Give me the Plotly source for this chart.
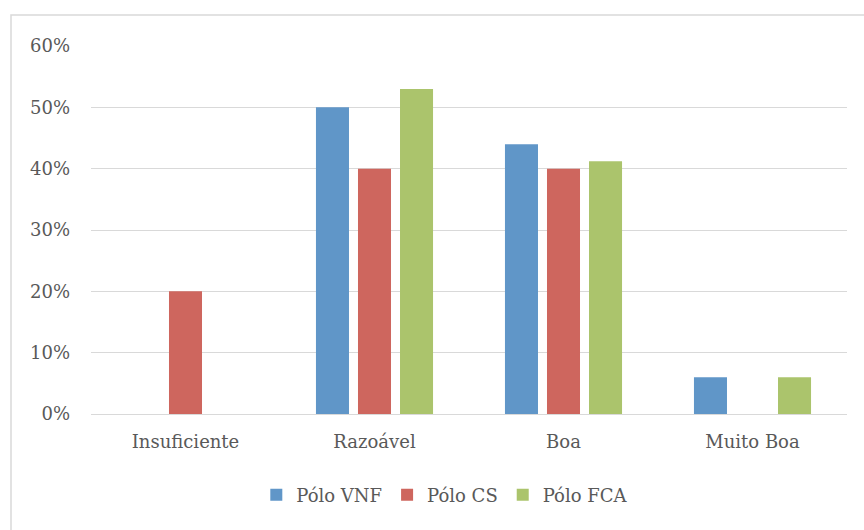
import plotly.graph_objects as go

categories = ["Insuficiente", "Razoável", "Boa", "Muito Boa"]
polo_vnf = [0, 50, 44, 6]
polo_cs = [20, 40, 40, 0]
polo_fca = [0, 53, 41.2, 6]
y_ticks = [0, 10, 20, 30, 40, 50, 60]
y_tick_labels = ["0%", "10%", "20%", "30%", "40%", "50%", "60%"]

series = [
    ("Pólo VNF", polo_vnf, "#6096C8"),
    ("Pólo CS", polo_cs, "#CE665E"),
    ("Pólo FCA", polo_fca, "#ABC46C"),
]

font_family = "DejaVu Serif"
text_color = "#595959"
grid_color = "#D9D9D9"

fig = go.Figure()
for name, values, fill in series:
    fig.add_trace(go.Bar(
        x=categories, y=values, name=name,
        marker=dict(color=fill, line=dict(width=0)),
    ))

fig.update_layout(
    width=864, height=530,
    margin=dict(l=91, r=17, t=46, b=116),
    paper_bgcolor="white", plot_bgcolor="white",
    barmode="group", bargap=0.333, bargroupgap=0.214,
    font=dict(family=font_family, size=18, color=text_color),
    showlegend=True,
    legend=dict(
        orientation="h", x=0.468, xanchor="center", y=-0.22, yanchor="middle",
        font=dict(family=font_family, size=18, color=text_color),
        itemwidth=30, traceorder="normal",
    ),
    xaxis=dict(
        showgrid=False, showline=False, zeroline=False, ticks="",
        tickfont=dict(family=font_family, size=18, color=text_color),
        ticklabelstandoff=15,
    ),
    yaxis=dict(
        range=[0, 60], tickmode="array", tickvals=y_ticks, ticktext=y_tick_labels,
        showgrid=True, gridcolor=grid_color, gridwidth=1,
        zeroline=True, zerolinecolor=grid_color, zerolinewidth=1,
        showline=False, ticks="",
        tickfont=dict(family=font_family, size=18, color=text_color),
        ticklabelstandoff=20,
    ),
    shapes=[dict(
        type="rect", xref="paper", yref="paper",
        x0=(11 - 91) / 756, x1=(880 - 91) / 756,
        y0=(414 - 560) / 368, y1=(414 - 15) / 368,
        line=dict(color=grid_color, width=1.5), fillcolor="rgba(0,0,0,0)",
        layer="below",
    )],
)

fig.write_html("out.html")
